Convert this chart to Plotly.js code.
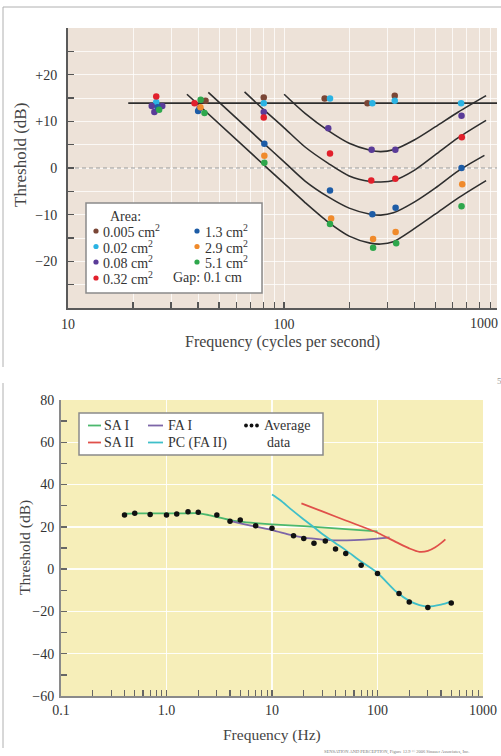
<!DOCTYPE html>
<html><head><meta charset="utf-8">
<script src="https://cdn.plot.ly/plotly-3.0.1.min.js"></script>
<style>html,body{margin:0;padding:0;background:#fff;}#chart{width:501px;height:756px;}</style>
</head><body><div id="chart"></div>
<script>
// ---------- Top panel data (threshold vs frequency, contactor areas) ----------
const areaLabels = ['0.005', '0.02', '0.08', '0.32', '1.3', '2.9', '5.1'];
const areaColors = ['#7a4636', '#2bb3e3', '#5a3b98', '#e2202c', '#1d5ca6', '#f08a2b', '#2ea74c'];
const brownF = [25.8, 43.3, 80.5, 154, 243, 325];
const brownT = [13.5, 14.4, 15.1, 14.9, 13.9, 15.5];
const cyanF = [25.6, 80.5, 163, 256, 325, 659];
const cyanT = [14.1, 13.9, 14.9, 13.9, 14.4, 13.9];
const purpleF = [24.4, 25.1, 27.3, 40.6, 80.5, 160, 254, 327, 662];
const purpleT = [13.3, 12.0, 13.3, 12.8, 12.0, 8.5, 3.9, 3.9, 11.2];
const redF = [25.6, 38.5, 80.5, 163, 253, 327, 664];
const redT = [15.3, 13.9, 10.8, 3.1, -2.7, -2.3, 6.6];
const blueF = [26.0, 40.0, 81, 163, 256, 328, 662];
const blueT = [13.0, 12.2, 5.2, -4.8, -9.9, -8.5, 0.0];
const orangeF = [41, 81, 165, 258, 328, 667];
const orangeT = [13.0, 2.6, -10.8, -15.2, -13.7, -3.5];
const greenF = [26.4, 41.1, 42.8, 81, 163, 258, 330, 662];
const greenT = [12.5, 14.6, 11.8, 1.1, -12.0, -17.1, -16.1, -8.2];

const flatF = [19, 1000];
const flatT = [13.9, 13.9];
const zeroF = [10, 1000];
const zeroT = [0, 0];
const curve1F = [100, 125, 160, 200, 250, 280, 320, 400, 500, 640, 860];
const curve1T = [15.8, 11.7, 8.0, 5.3, 3.8, 3.5, 3.9, 6.0, 8.8, 12.0, 15.5];
const curve2F = [65.6, 80, 100, 125, 160, 200, 250, 280, 320, 400, 500, 640, 860];
const curve2T = [16.3, 12.6, 8.6, 4.5, 1.0, -1.7, -2.9, -3.0, -2.7, -0.5, 2.8, 6.5, 10.2];
const curve3F = [44.6, 80, 100, 125, 160, 200, 250, 280, 320, 400, 500, 640, 845];
const curve3T = [16.2, 5.4, 1.3, -2.8, -6.2, -8.6, -9.9, -10.1, -9.6, -7.3, -4.3, -0.6, 2.7];
const curve4F = [35.5, 80, 100, 125, 160, 200, 250, 280, 320, 400, 500, 640, 860];
const curve4T = [15.8, 0.8, -3.3, -7.4, -11.6, -14.6, -16.1, -16.3, -15.8, -13.0, -9.9, -6.4, -2.7];

const topXTicks = [10, 20, 30, 40, 50, 60, 70, 80, 90, 100, 200, 300, 400, 500, 600, 700, 800, 900];
const topXText = ['10', '', '', '', '', '', '', '', '', '100', '', '', '', '', '', '', '', ''];
const topYTicks = [-25, -20, -15, -10, -5, 0, 5, 10, 15, 20, 25];
const topYText = ['', '\u221220', '', '\u221210', '', '0', '', '+10', '', '+20', ''];

// ---------- Bottom panel data (receptor channels) ----------
const avgF = [0.4, 0.5, 0.7, 1.0, 1.25, 1.6, 2, 3, 4, 5, 7, 10, 16, 20, 25, 32, 40, 50, 70, 100, 160, 200, 300, 500];
const avgT = [25.6, 26.4, 25.9, 25.6, 26.1, 27.2, 26.9, 25.6, 22.7, 23.2, 20.5, 19.3, 15.8, 14.5, 12.2, 13.3, 9.5, 7.4, 1.9, -2.1, -11.5, -15.5, -18.2, -16.0];
const sa1F = [0.4, 0.5, 0.7, 1, 1.5, 2, 2.5, 3, 4, 5, 7, 10, 20, 50, 100];
const sa1T = [26.2, 26.4, 26.4, 26.4, 26.4, 26.4, 25.6, 24.7, 23.2, 22.5, 21.8, 21.2, 20.3, 18.9, 17.9];
const fa1F = [4, 5, 7, 10, 15, 20, 30, 40, 60, 100, 130];
const fa1T = [22.8, 21.7, 20.1, 18.5, 16.2, 14.9, 14.0, 13.6, 13.7, 14.4, 15.0];
const sa2F = [19, 30, 50, 100, 150, 200, 250, 300, 350, 400, 440];
const sa2T = [31.1, 27.3, 23.0, 17.2, 12.8, 9.8, 8.2, 8.6, 10.2, 12.3, 14.1];
const pcF = [10, 12, 15, 20, 25, 30, 40, 50, 70, 100, 150, 200, 250, 300, 400, 500];
const pcT = [35.3, 32.6, 28.5, 23.5, 19.8, 16.6, 12.3, 9.0, 3.6, -1.8, -10.6, -15.0, -17.0, -17.7, -16.8, -15.4];
const channelNames = ['SA I', 'SA II', 'FA I', 'PC (FA II)'];
const channelColors = ['#4cb86e', '#e0504a', '#7d66a8', '#3fbfc9'];

const botXTicks = [0.1, 1, 10, 100, 1000];
const botXText = ['0.1', '1.0', '10', '100', '1000'];
const botXMinor = [];
[0.1, 1, 10, 100].forEach(d => { for (let k = 2; k <= 9; k++) botXMinor.push(d * k); });
const botYTicks = [-60, -40, -20, 0, 20, 40, 60, 80];
const botYText = ['\u221260', '\u221240', '\u221220', '0', '20', '40', '60', '80'];

// ---------- Geometry helpers ----------
const W = 501, H = 756;
const px = v => v / W, py = v => 1 - v / H;
const FONT = 'Liberation Serif, Times New Roman, serif';

const traces = [];
traces.push({x: zeroF, y: zeroT, xaxis: 'x', yaxis: 'y', mode: 'lines', line: {color: '#9a9a9a', width: 1.2, dash: '4px,3px'}, hoverinfo: 'skip'});
[[flatF, flatT], [curve1F, curve1T], [curve2F, curve2T], [curve3F, curve3T], [curve4F, curve4T]].forEach(c => {
  traces.push({x: c[0], y: c[1], xaxis: 'x', yaxis: 'y', mode: 'lines', line: {color: '#2e2e2e', width: 1.6, shape: 'spline', smoothing: 0.8}, hoverinfo: 'skip'});
});
const pointSets = [[brownF, brownT], [cyanF, cyanT], [purpleF, purpleT], [redF, redT], [blueF, blueT], [orangeF, orangeT], [greenF, greenT]];
pointSets.forEach((s, i) => {
  traces.push({x: s[0], y: s[1], xaxis: 'x', yaxis: 'y', mode: 'markers', name: areaLabels[i] + ' cm²',
    marker: {color: areaColors[i], size: 6.5, line: {width: 0}}});
});
const chans = [[sa1F, sa1T, 0], [fa1F, fa1T, 2], [sa2F, sa2T, 1], [pcF, pcT, 3]];
chans.forEach(c => {
  traces.push({x: c[0], y: c[1], xaxis: 'x2', yaxis: 'y2', mode: 'lines', name: channelNames[c[2]],
    line: {color: channelColors[c[2]], width: 1.8, shape: 'spline', smoothing: 0.8}});
});
traces.push({x: avgF, y: avgT, xaxis: 'x2', yaxis: 'y2', mode: 'markers', name: 'Average data',
  marker: {color: '#111', size: 5.5}});

const shapes = [
  {type: 'rect', xref: 'x domain', yref: 'y domain', x0: 0, x1: 1, y0: 0, y1: 1, fillcolor: '#ede2d8', line: {width: 0}, layer: 'below'},
  {type: 'rect', xref: 'x2 domain', yref: 'y2 domain', x0: 0, x1: 1, y0: 0, y1: 1, fillcolor: '#f6eeb9', line: {width: 0}, layer: 'below'},
  // outer frame
  {type: 'line', xref: 'paper', yref: 'paper', x0: px(3), x1: px(501), y0: py(7), y1: py(7), line: {color: '#b0b0b0', width: 1}},
  {type: 'line', xref: 'paper', yref: 'paper', x0: px(3), x1: px(3), y0: py(7), y1: py(367), line: {color: '#b0b0b0', width: 1}},
  {type: 'line', xref: 'paper', yref: 'paper', x0: px(3), x1: px(3), y0: py(383), y1: py(748), line: {color: '#b0b0b0', width: 1}},
  // top legend box
  {type: 'rect', xref: 'paper', yref: 'paper', x0: px(86), x1: px(262), y0: py(203), y1: py(293), fillcolor: '#ffffff', line: {color: '#8a8a8a', width: 1.5}},
  // bottom legend box
  {type: 'rect', xref: 'paper', yref: 'paper', x0: px(79), x1: px(323), y0: py(413), y1: py(455), fillcolor: '#ffffff', line: {color: '#8a8a8a', width: 1.5}}
];
const legLines = [[88, 101, 425.5, 0], [88, 101, 442.5, 1], [148, 163, 425.5, 2], [148, 163, 442.5, 3]];
legLines.forEach(l => shapes.push({type: 'line', xref: 'paper', yref: 'paper', x0: px(l[0]), x1: px(l[1]), y0: py(l[2]), y1: py(l[2]), line: {color: channelColors[l[3]], width: 1.8}}));
[246, 251.5, 257].forEach(cx => shapes.push({type: 'circle', xref: 'paper', yref: 'paper', x0: px(cx - 1.9), x1: px(cx + 1.9), y0: py(425.5 - 1.9), y1: py(425.5 + 1.9), fillcolor: '#111', line: {width: 0}}));
const topMarkerPos = [[96, 231], [96, 246.5], [96, 262], [96, 278], [197, 231], [197, 246.5], [197, 262]];
topMarkerPos.forEach((p, i) => shapes.push({type: 'circle', xref: 'paper', yref: 'paper', x0: px(p[0] - 2.6), x1: px(p[0] + 2.6), y0: py(p[1] - 2.6), y1: py(p[1] + 2.6), fillcolor: areaColors[i], line: {width: 0}}));

const ann = [];
function txt(t, x, y, opts) {
  ann.push(Object.assign({text: t, x: px(x), y: py(y), xref: 'paper', yref: 'paper', showarrow: false, xanchor: 'left', yanchor: 'middle',
    font: {family: FONT, size: 14, color: '#333'}}, opts || {}));
}
txt('Threshold (dB)', 21, 155, {xanchor: 'center', textangle: -90, font: {family: FONT, size: 17, color: '#444'}});
txt('Frequency (cycles per second)', 282, 342, {xanchor: 'center', font: {family: FONT, size: 16, color: '#444'}});
txt('1000', 500, 323, {xanchor: 'right', font: {family: FONT, size: 14, color: '#333'}});
txt('Threshold (dB)', 25, 548, {xanchor: 'center', textangle: -90, font: {family: FONT, size: 15.5, color: '#444'}});
txt('Frequency (Hz)', 272, 735, {xanchor: 'center', font: {family: FONT, size: 15.5, color: '#444'}});
txt('Area:', 108, 216);
const rowsY = [231, 246.5, 262, 278];
for (let i = 0; i < 4; i++) txt(areaLabels[i] + ' cm<sup>2</sup>', 101, rowsY[i]);
for (let i = 4; i < 7; i++) txt(areaLabels[i] + ' cm<sup>2</sup>', 203, rowsY[i - 4]);
txt('Gap: 0.1 cm', 171, 278);
txt(channelNames[0], 102, 425.5);
txt(channelNames[1], 102, 442.5);
txt(channelNames[2], 166, 425.5);
txt(channelNames[3], 166, 442.5);
txt('Average', 262, 425.5);
txt('data', 265, 442.5);
txt('5', 495, 381, {font: {family: FONT, size: 9, color: '#999'}});
txt('SENSATION AND PERCEPTION, Figure 12.9 \u00a9 2006 Sinauer Associates, Inc.', 322, 752, {font: {family: FONT, size: 4.5, color: '#777'}});

const axisCommon = {ticks: 'inside', ticklen: 6, tickwidth: 1.3, tickcolor: '#555', showline: true, linewidth: 2, zeroline: false,
  tickfont: {family: FONT, size: 14, color: '#333'}, fixedrange: true};

const layout = {
  width: W, height: H, margin: {l: 0, r: 0, t: 0, b: 0}, paper_bgcolor: '#ffffff', plot_bgcolor: 'rgba(0,0,0,0)',
  showlegend: false, font: {family: FONT, size: 14, color: '#333'},
  xaxis: Object.assign({}, axisCommon, {type: 'log', domain: [px(68), px(497)], range: [1, 2.985], anchor: 'y',
    tickmode: 'array', tickvals: topXTicks, ticktext: topXText, linecolor: '#5a5a5a', showgrid: true, gridcolor: 'rgba(255,255,255,0.75)', gridwidth: 1, ticklabelstandoff: 2}),
  yaxis: Object.assign({}, axisCommon, {domain: [py(308), py(28)], range: [-30, 30], anchor: 'x',
    tickmode: 'array', tickvals: topYTicks, ticktext: topYText, linecolor: '#5a5a5a', showgrid: true, gridcolor: 'rgba(255,255,255,0.75)', gridwidth: 1, ticklabelstandoff: 6}),
  xaxis2: Object.assign({}, axisCommon, {type: 'log', domain: [px(61), px(483)], range: [-1, 3], anchor: 'y2',
    tickmode: 'array', tickvals: botXTicks, ticktext: botXText, linecolor: '#8a8a8a', tickcolor: '#666', showgrid: true, gridcolor: 'rgba(255,255,255,0.9)', gridwidth: 1.5,
    minor: {tickmode: 'array', tickvals: botXMinor, ticks: 'inside', ticklen: 6, tickwidth: 1.3, tickcolor: '#666', showgrid: false}, ticklabelstandoff: 0}),
  yaxis2: Object.assign({}, axisCommon, {domain: [py(696), py(400)], range: [-60, 80], anchor: 'x2',
    tickmode: 'array', tickvals: botYTicks, ticktext: botYText, linecolor: '#8a8a8a', tickcolor: '#666', showgrid: true, gridcolor: 'rgba(255,255,255,0.9)', gridwidth: 1.5,
    minor: {dtick: 10, tick0: 0, ticks: 'inside', ticklen: 6, tickwidth: 1.3, tickcolor: '#666', showgrid: false}, ticklabelstandoff: 2}),
  shapes: shapes,
  annotations: ann
};
Plotly.newPlot('chart', traces, layout, {staticPlot: true, displayModeBar: false});
</script></body></html>
